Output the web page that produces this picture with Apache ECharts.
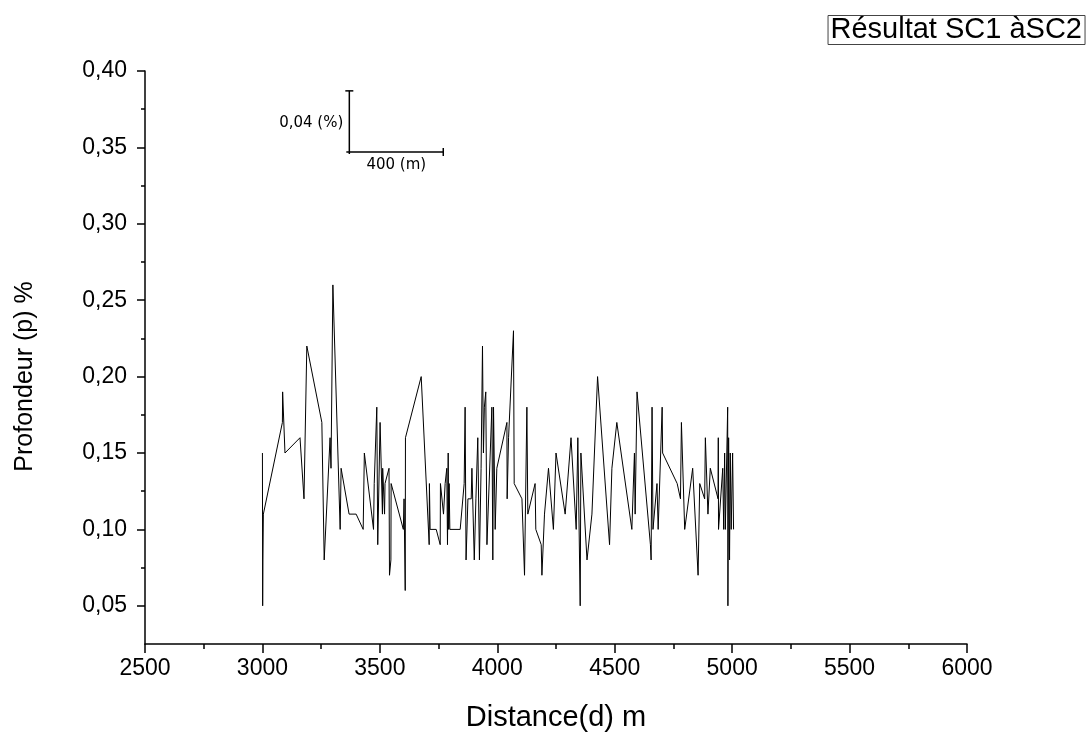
<!DOCTYPE html>
<html>
<head>
<meta charset="utf-8">
<script src="https://cdn.jsdelivr.net/npm/echarts@6/dist/echarts.min.js"></script>
<style>
  html, body { margin: 0; padding: 0; background: #fff; }
  #chart { width: 1089px; height: 733px; }
</style>
</head>
<body>
<div id="chart"></div>
<script>
// Profile of depth (%) against distance (m), section SC1 to SC2
const distance = [3000,3001,3002,3004,3085,3086,3096,3160,3177,3189,3253,3263,3288,3292,3300,3331,3335,3369,3399,3429,
  3434,3473,3476,3487,3491,3501,3511,3512,3520,3522,3539,3541,3547,3548,3600,3603,3608,3609,3676,3710,
  3711,3714,3740,3757,3758,3771,3778,3785,3788,3791,3793,3795,3798,3842,3859,3863,3867,3875,3889,3892,
  3902,3909,3917,3924,3931,3937,3941,3945,3951,3956,3977,3981,3984,3991,3998,4041,4042,4048,4069,4072,
  4105,4116,4126,4130,4161,4164,4187,4190,4201,4218,4239,4250,4289,4314,4336,4343,4353,4356,4382,4403,
  4427,4478,4488,4509,4573,4584,4587,4595,4652,4655,4659,4663,4680,4685,4702,4704,4766,4780,4784,4798,
  4832,4855,4862,4883,4886,4897,4907,4940,4941,4942,4960,4964,4968,4971,4981,4982,4985,4989,4992,4996,
  5002,5006];
const depth = [0.15,0.05,0.08,0.11,0.17,0.19,0.15,0.16,0.12,0.22,0.17,0.08,0.16,0.14,0.26,0.10,0.14,0.11,0.11,0.10,
  0.15,0.10,0.13,0.18,0.09,0.17,0.11,0.14,0.11,0.13,0.14,0.07,0.08,0.13,0.10,0.12,0.06,0.16,0.20,0.09,
  0.13,0.10,0.10,0.09,0.13,0.11,0.13,0.14,0.09,0.15,0.10,0.13,0.10,0.10,0.13,0.18,0.08,0.12,0.12,0.14,
  0.08,0.12,0.16,0.08,0.14,0.22,0.15,0.18,0.19,0.09,0.18,0.08,0.18,0.10,0.14,0.17,0.12,0.16,0.23,0.13,
  0.12,0.07,0.18,0.11,0.13,0.10,0.09,0.07,0.11,0.14,0.10,0.15,0.11,0.16,0.10,0.16,0.05,0.15,0.08,0.11,
  0.20,0.09,0.14,0.17,0.10,0.15,0.11,0.19,0.09,0.08,0.18,0.10,0.13,0.10,0.18,0.15,0.13,0.12,0.17,0.10,
  0.14,0.07,0.13,0.12,0.16,0.11,0.14,0.12,0.16,0.10,0.14,0.10,0.15,0.10,0.18,0.05,0.16,0.08,0.15,0.10,
  0.15,0.10];

// Axis ticks
const yLabelTicks = [0.05, 0.10, 0.15, 0.20, 0.25, 0.30, 0.35, 0.40];
const yMinorTicks = [0.075, 0.125, 0.175, 0.225, 0.275, 0.325, 0.375];

// Scale bar: origin (m, %), horizontal length (m), vertical length (%)
const scaleOrigin = [3370, 0.347];
const scaleDx = [400];
const scaleDy = [0.04];

const comma = v => v.toFixed(2).replace('.', ',');
const FONT = '"Liberation Sans", Arial, sans-serif';

const chart = echarts.init(document.getElementById('chart'), null, { renderer: 'canvas' });

chart.setOption({
  animation: false,
  backgroundColor: '#fff',
  title: {
    text: 'Résultat SC1 àSC2',
    right: 4,
    top: 15,
    padding: [0, 3, 0, 3],
    borderColor: '#444',
    borderWidth: 1,
    textStyle: { fontFamily: FONT, fontSize: 29, fontWeight: 'normal', color: '#000', lineHeight: 30 }
  },
  grid: { left: 145, right: 122, top: 71, bottom: 89, containLabel: false, outerBoundsMode: 'none' },
  xAxis: {
    type: 'value',
    min: 2500, max: 6000, interval: 500,
    name: 'Distance(d) m',
    nameLocation: 'middle',
    nameGap: 59,
    nameTextStyle: { fontFamily: FONT, fontSize: 29, color: '#000' },
    axisLine: { show: true, onZero: false, lineStyle: { color: '#000', width: 1.5 } },
    axisTick: { show: true, inside: false, length: 9, lineStyle: { color: '#000', width: 1.5 } },
    minorTick: { show: true, splitNumber: 2, length: 5, lineStyle: { color: '#000', width: 1.5 } },
    axisLabel: { fontFamily: FONT, fontSize: 23, color: '#000', margin: 13, formatter: v => String(v) },
    splitLine: { show: false }
  },
  yAxis: [{
    type: 'value',
    min: 0.025, max: 0.40, interval: 0.025,
    position: 'left',
    name: 'Profondeur (p) %',
    nameLocation: 'middle',
    nameGap: 107,
    nameTextStyle: { fontFamily: FONT, fontSize: 25, color: '#000', padding: [0, 38, 0, 0] },
    axisLine: { show: true, onZero: false, lineStyle: { color: '#000', width: 1.5 } },
    axisTick: { show: true, inside: false, length: 8, customValues: yLabelTicks, lineStyle: { color: '#000', width: 1.5 } },
    axisLabel: { fontFamily: FONT, fontSize: 23, color: '#000', margin: 18, customValues: yLabelTicks, formatter: v => comma(v) },
    splitLine: { show: false }
  }, {
    type: 'value',
    min: 0.025, max: 0.40, interval: 0.025,
    position: 'left',
    offset: 0,
    axisLine: { show: false },
    axisTick: { show: true, inside: false, length: 4, customValues: yMinorTicks, lineStyle: { color: '#000', width: 1.5 } },
    axisLabel: { show: false },
    splitLine: { show: false }
  }],
  series: [{
    type: 'line',
    name: 'Profondeur',
    xAxisIndex: 0,
    yAxisIndex: 0,
    data: distance.map((d, i) => [d, depth[i]]),
    showSymbol: false,
    symbol: 'none',
    lineStyle: { color: '#000', width: 1 },
    z: 3
  }, {
    type: 'custom',
    name: 'Échelle',
    xAxisIndex: 0,
    yAxisIndex: 0,
    clip: false,
    silent: true,
    data: [scaleOrigin],
    renderItem: function (params, api) {
      const o = api.coord([scaleOrigin[0], scaleOrigin[1]]);
      const top = api.coord([scaleOrigin[0], scaleOrigin[1] + scaleDy[0]]);
      const right = api.coord([scaleOrigin[0] + scaleDx[0], scaleOrigin[1]]);
      const s = { stroke: '#000', lineWidth: 1.5 };
      const txt = { fontFamily: '"DejaVu Sans", sans-serif', fontSize: 15, fill: '#000' };
      return {
        type: 'group',
        children: [
          { type: 'line', shape: { x1: o[0], y1: o[1] + 2, x2: top[0], y2: top[1] }, style: s },
          { type: 'line', shape: { x1: top[0] - 4, y1: top[1], x2: top[0] + 4, y2: top[1] }, style: s },
          { type: 'line', shape: { x1: o[0] - 3, y1: o[1], x2: right[0], y2: o[1] }, style: s },
          { type: 'line', shape: { x1: right[0], y1: o[1] - 4, x2: right[0], y2: o[1] + 4 }, style: s },
          { type: 'text', x: o[0] - 6, y: (o[1] + top[1]) / 2 + 2,
            style: Object.assign({ text: comma(scaleDy[0]) + ' (%)', align: 'right', verticalAlign: 'middle' }, txt) },
          { type: 'text', x: (o[0] + right[0]) / 2, y: o[1] + 6,
            style: Object.assign({ text: scaleDx[0] + ' (m)', align: 'center', verticalAlign: 'top' }, txt) }
        ]
      };
    }
  }]
});
</script>
</body>
</html>
